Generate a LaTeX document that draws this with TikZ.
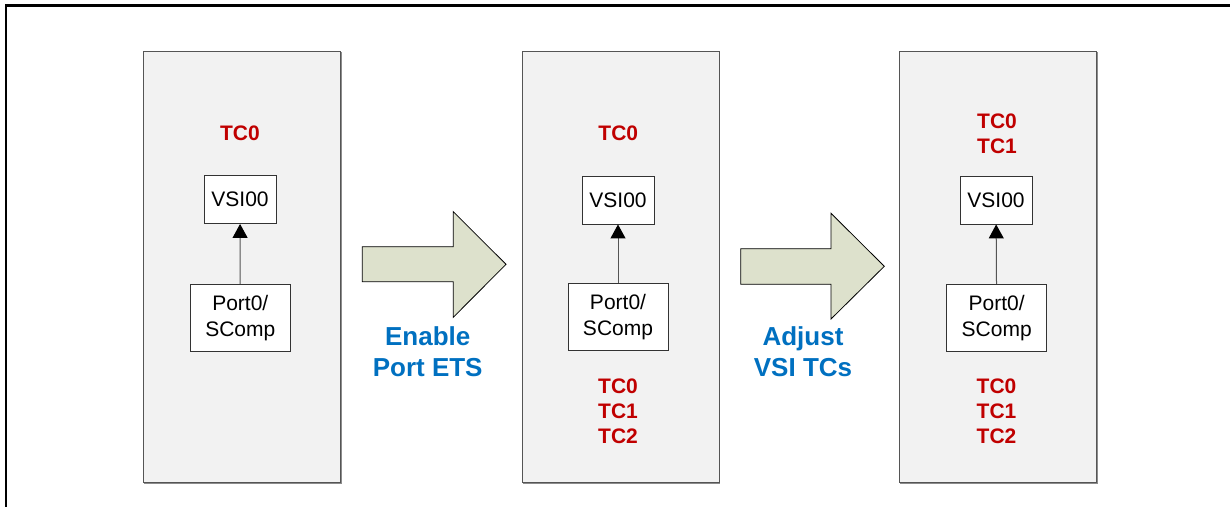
\documentclass[tikz,border=0pt]{standalone}
\usepackage{fontspec}
\setmainfont{Liberation Sans}
\usetikzlibrary{arrows.meta}
\definecolor{tcred}{HTML}{C00000}
\definecolor{stepblue}{HTML}{0070C0}
\definecolor{panelfill}{HTML}{F2F2F2}
\definecolor{panelborder}{HTML}{555555}
\definecolor{panelshadow}{HTML}{8C8C8C}
\definecolor{arrowfill}{HTML}{DDE1CC}
\definecolor{linkgray}{HTML}{555555}
\tikzset{
  panel/.style={draw=panelborder, fill=panelfill, line width=1pt, minimum width=197pt, minimum height=431pt, inner sep=0pt, anchor=north west},
  smallbox/.style={draw=black!80, fill=white, line width=0.9pt, inner sep=0pt, align=center, font=\fontsize{21}{26}\selectfont},
  vsibox/.style={smallbox, minimum width=72pt, minimum height=48pt},
  portbox/.style={smallbox, minimum width=100pt, minimum height=67pt},
  tclabel/.style={font=\bfseries\fontsize{21}{25}\selectfont, text=tcred, align=center, inner sep=0pt},
  steplabel/.style={font=\bfseries\fontsize{26}{30.7}\selectfont, text=stepblue, align=center, inner sep=0pt},
  blockarrow/.style={draw=black, fill=arrowfill, line width=0.8pt, line join=miter},
  link/.style={draw=linkgray, line width=1pt, -{Triangle[width=15pt,length=14pt,color=black]}},
  frameline/.style={draw=black, line width=2.4pt}
}
\begin{document}
\begin{tikzpicture}[x=1pt,y=-1pt]
\useasboundingbox (0,0) rectangle (1230,506);
% outer frame (top and left edges visible)
\draw[frameline] (1232,5.5) -- (6,5.5) -- (6,508);

% panels with a subtle shadow
\foreach \px in {143,521.7,899.3}{
  \draw[panelshadow, line width=1.4pt] (\px+1,483) -- (\px+198,483) -- (\px+198,52);
}
\node[panel] (p1) at (143,51) {};
\node[panel] (p2) at (521.7,51) {};
\node[panel] (p3) at (899.3,51) {};

% panel 1
\node[tclabel] (p1top) at (240,133) {TC0};
\node[vsibox] (vsi1) at (240,199.5) {VSI00};
\node[portbox] (port1) at (240.3,318) {Port0/\\SComp};
\draw[link] (port1) -- (vsi1);

% panel 2
\node[tclabel] (p2top) at (618.3,133.3) {TC0};
\node[vsibox] (vsi2) at (618,200) {VSI00};
\node[portbox] (port2) at (618,317.4) {Port0/\\SComp};
\draw[link] (port2) -- (vsi2);
\node[tclabel] (p2bot) at (618,411.3) {TC0\\TC1\\TC2};

% panel 3
\node[tclabel] (p3top) at (997,134.2) {TC0\\TC1};
\node[vsibox] (vsi3) at (996,200) {VSI00};
\node[portbox] (port3) at (996.7,317.7) {Port0/\\SComp};
\draw[link] (port3) -- (vsi3);
\node[tclabel] (p3bot) at (996.5,411.3) {TC0\\TC1\\TC2};

% block arrows
\draw[blockarrow] (362.3,246.7) -- (453.3,246.7) -- (453.3,211.7) -- (506,264.3)
  -- (453.3,317.3) -- (453.3,281.7) -- (362.3,281.7) -- cycle;
\draw[blockarrow] (740.7,248.7) -- (831,248.7) -- (831,213.3) -- (884.3,266.3)
  -- (831,319) -- (831,284.3) -- (740.7,284.3) -- cycle;

% step labels
\node[steplabel] (step1) at (427.7,351.4) {Enable\\Port ETS};
\node[steplabel] (step2) at (803,351.7) {Adjust\\VSI TCs};
\end{tikzpicture}
\end{document}
